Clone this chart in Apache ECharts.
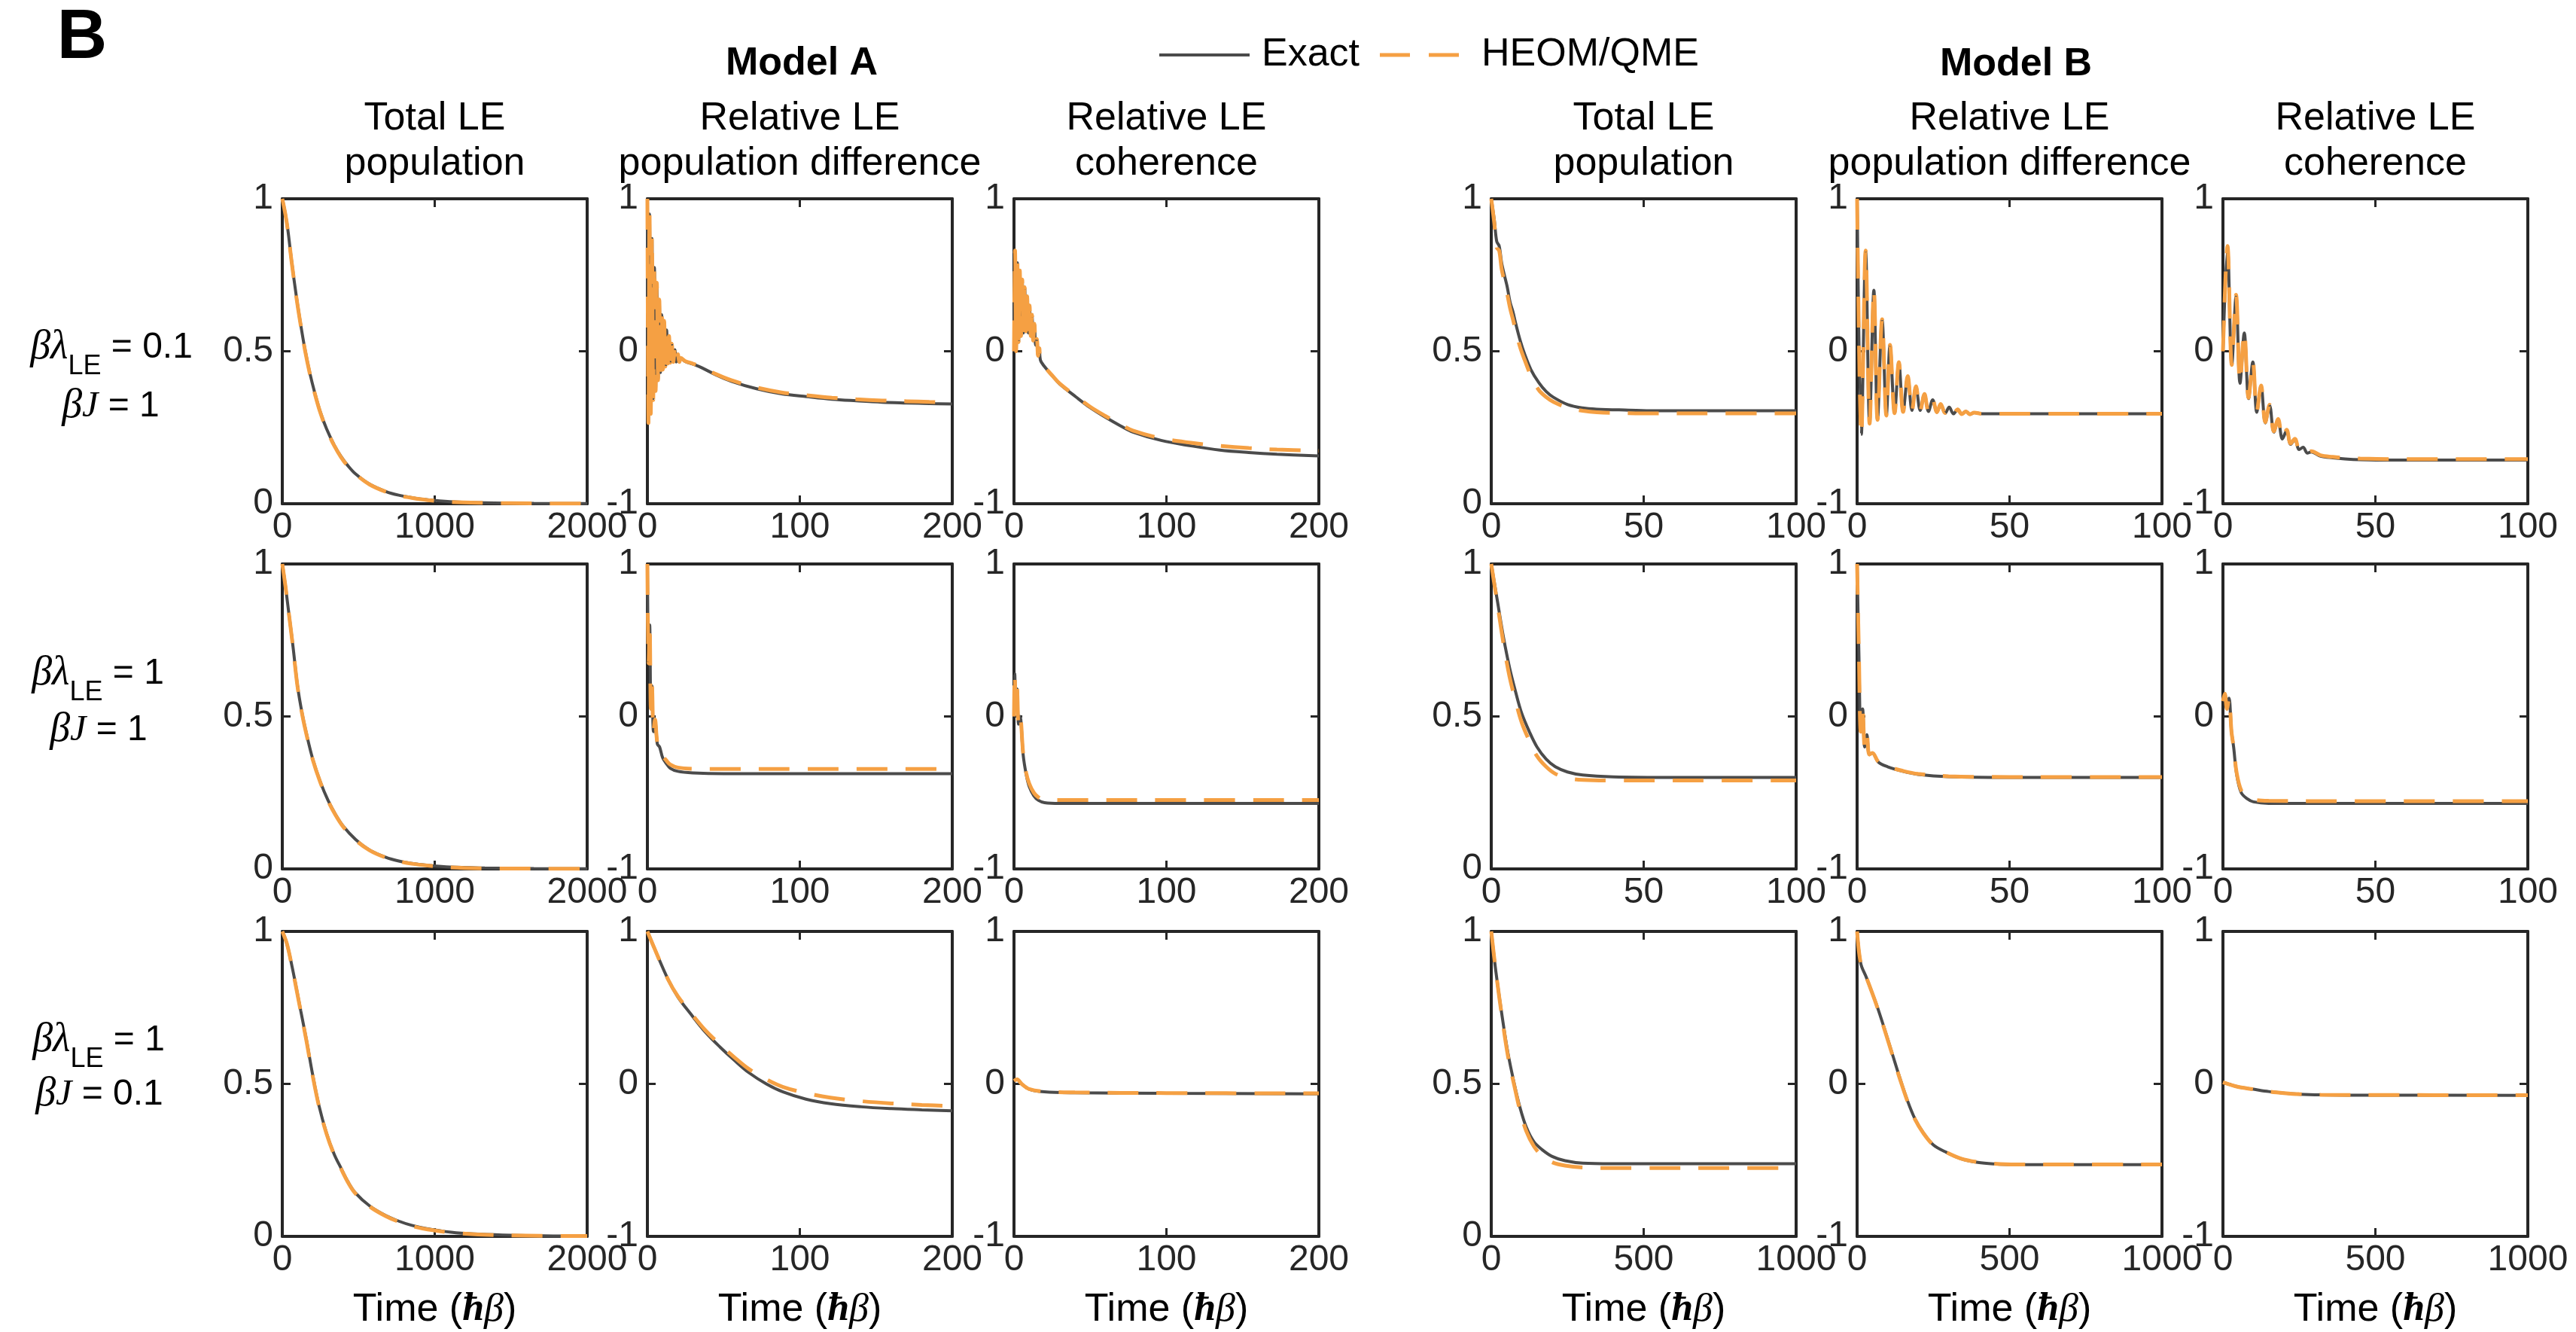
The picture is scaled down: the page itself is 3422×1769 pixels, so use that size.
<!DOCTYPE html>
<html>
<head>
<meta charset="utf-8">
<script src="https://cdn.jsdelivr.net/npm/echarts@6/dist/echarts.min.js"></script>
<style>
  html, body { margin: 0; padding: 0; background: #ffffff; }
  #chart { width: 3422px; height: 1769px; }
</style>
</head>
<body>
<div id="chart"></div>
<script>
// ---------------------------------------------------------------
// Data: time axes (units of hbar*beta) and the two dynamics per panel
// Row 1: beta*lambda_LE = 0.1, beta*J = 1
// Row 2: beta*lambda_LE = 1,   beta*J = 1
// Row 3: beta*lambda_LE = 1,   beta*J = 0.1
// Columns 1-3: Model A, columns 4-6: Model B
// ---------------------------------------------------------------

// Model A, total LE population
const timeR1C1  = [0, 20, 36, 60, 93, 120, 149, 180, 215, 250, 291, 340, 385, 430, 480, 573, 680, 764, 850, 953, 1100, 1328, 1650, 2000];
const exactR1C1 = [1, 0.95, 0.9, 0.8, 0.677, 0.59, 0.505, 0.43, 0.36, 0.3, 0.245, 0.193, 0.155, 0.125, 0.098, 0.064, 0.04, 0.028, 0.02, 0.013, 0.007, 0.003, 0.001, 0.0005];
const heomR1C1  = [1, 0.95, 0.898, 0.798, 0.675, 0.588, 0.503, 0.428, 0.358, 0.298, 0.243, 0.191, 0.153, 0.123, 0.097, 0.063, 0.039, 0.027, 0.019, 0.012, 0.006, 0.003, 0.001, 0.0005];

const timeR2C1  = [0, 20, 40, 70, 100, 130, 160, 200, 250, 300, 350, 400, 480, 573, 680, 764, 850, 953, 1100, 1328, 1650, 2000];
const exactR2C1 = [1, 0.93, 0.85, 0.73, 0.6, 0.51, 0.44, 0.36, 0.285, 0.225, 0.178, 0.14, 0.097, 0.062, 0.038, 0.026, 0.018, 0.012, 0.006, 0.003, 0.001, 0.0005];
const heomR2C1  = [1, 0.93, 0.85, 0.728, 0.598, 0.508, 0.438, 0.358, 0.283, 0.223, 0.176, 0.138, 0.095, 0.061, 0.037, 0.025, 0.017, 0.011, 0.005, 0.002, 0.001, 0.0005];

const timeR3C1  = [0, 30, 64, 90, 121, 160, 197, 240, 291, 340, 386, 430, 479, 573, 680, 764, 850, 953, 1140, 1500, 2000];
const exactR3C1 = [1, 0.96, 0.885, 0.82, 0.74, 0.64, 0.536, 0.43, 0.337, 0.27, 0.223, 0.18, 0.143, 0.1, 0.068, 0.05, 0.036, 0.025, 0.012, 0.004, 0.001];
const heomR3C1  = [1, 0.96, 0.884, 0.818, 0.738, 0.637, 0.533, 0.428, 0.335, 0.268, 0.221, 0.178, 0.141, 0.098, 0.066, 0.048, 0.034, 0.023, 0.011, 0.003, 0.001];

// Model A, relative LE population difference
const timeR1C2  = [0, 0.7, 1.4, 2.2, 3.0, 3.8, 4.6, 5.4, 6.2, 7.0, 7.8, 8.6, 9.4, 10.2, 11, 11.8, 12.6, 13.4, 14.2, 15, 16, 17, 18, 19, 20, 21, 22, 24.7, 30, 35.4, 45, 55, 71.6, 88, 104.5, 121, 137, 154, 170, 185, 200];
const exactR1C2 = [1, -0.46, 0.9, -0.4, 0.74, -0.31, 0.55, -0.25, 0.44, -0.18, 0.33, -0.14, 0.24, -0.11, 0.19, -0.1, 0.14, -0.08, 0.09, -0.075, 0.05, -0.07, 0.01, -0.07, -0.02, -0.07, -0.045, -0.066, -0.085, -0.107, -0.155, -0.197, -0.246, -0.279, -0.298, -0.315, -0.325, -0.334, -0.339, -0.343, -0.346];
const heomR1C2  = [1, -0.47, 0.92, -0.41, 0.75, -0.32, 0.56, -0.26, 0.45, -0.19, 0.34, -0.15, 0.25, -0.12, 0.2, -0.1, 0.15, -0.08, 0.1, -0.075, 0.05, -0.07, 0.01, -0.07, -0.02, -0.07, -0.045, -0.064, -0.082, -0.103, -0.15, -0.19, -0.238, -0.27, -0.289, -0.305, -0.315, -0.323, -0.328, -0.332, -0.335];

const timeR2C2  = [0, 0.8, 1.5, 2.3, 3, 4, 5, 6.5, 8, 10, 12.5, 15, 20, 30, 50, 100, 150, 200];
const exactR2C2 = [1, 0.35, 0.6, 0.05, 0.2, -0.1, -0.02, -0.18, -0.2, -0.27, -0.31, -0.34, -0.36, -0.37, -0.375, -0.375, -0.375, -0.375];
const heomR2C2  = [1, 0.35, 0.6, 0.05, 0.2, -0.1, -0.02, -0.17, -0.19, -0.255, -0.29, -0.315, -0.335, -0.343, -0.345, -0.345, -0.345, -0.345];

const timeR3C2  = [0, 5, 13.6, 20, 28.8, 38, 47.6, 57, 66.5, 78, 89, 104, 120, 140, 160, 180, 200];
const exactR3C2 = [1, 0.88, 0.684, 0.57, 0.454, 0.34, 0.242, 0.155, 0.074, 0.0, -0.053, -0.1, -0.13, -0.15, -0.162, -0.17, -0.177];
const heomR3C2  = [1, 0.88, 0.684, 0.575, 0.462, 0.352, 0.258, 0.175, 0.098, 0.03, -0.02, -0.06, -0.09, -0.113, -0.128, -0.138, -0.145];

// Model A, relative LE coherence
const timeR1C3  = [0, 0.7, 1.4, 2.2, 3.0, 3.8, 4.6, 5.4, 6.2, 7.0, 7.8, 8.6, 9.4, 10.2, 11, 11.8, 12.6, 13.4, 14.2, 15, 15.8, 16.6, 17.4, 20, 25.6, 30, 40.7, 50, 59.5, 70, 78, 97, 116, 135, 154, 172.5, 200];
const exactR1C3 = [0, 0.65, 0.0, 0.58, 0.06, 0.52, 0.1, 0.46, 0.12, 0.42, 0.13, 0.36, 0.12, 0.3, 0.1, 0.24, 0.07, 0.18, 0.04, 0.08, -0.03, 0.02, -0.06, -0.1, -0.166, -0.215, -0.3, -0.37, -0.43, -0.49, -0.53, -0.586, -0.62, -0.648, -0.664, -0.675, -0.686];
const heomR1C3  = [0, 0.66, 0.0, 0.59, 0.06, 0.53, 0.1, 0.47, 0.12, 0.42, 0.13, 0.36, 0.12, 0.3, 0.1, 0.24, 0.07, 0.18, 0.04, 0.08, -0.03, 0.02, -0.06, -0.1, -0.165, -0.212, -0.296, -0.364, -0.422, -0.48, -0.52, -0.572, -0.6, -0.62, -0.635, -0.645, -0.653];

const timeR2C3  = [0, 0.5, 1.2, 2, 3, 4, 6, 8, 10, 13, 16, 20, 30, 100, 200];
const exactR2C3 = [0, 0.28, 0.05, 0.18, -0.05, 0, -0.25, -0.38, -0.46, -0.52, -0.55, -0.565, -0.57, -0.57, -0.57];
const heomR2C3  = [0, 0.28, 0.05, 0.18, -0.05, 0, -0.24, -0.37, -0.44, -0.5, -0.53, -0.545, -0.548, -0.548, -0.548];

const timeR3C3  = [0, 2, 5, 10, 20, 40, 100, 200];
const exactR3C3 = [0.02, 0.03, 0.0, -0.035, -0.052, -0.058, -0.062, -0.065];
const heomR3C3  = [0.02, 0.03, 0.0, -0.034, -0.05, -0.056, -0.06, -0.062];

// Model B, total LE population
const timeR1C4  = [0, 1, 1.8, 2.6, 3.4, 4.3, 5.2, 6.2, 7.1, 8.1, 9.5, 10.9, 13, 15.6, 18, 20.4, 25.1, 30, 34.6, 45, 53.5, 70, 100];
const exactR1C4 = [1, 0.93, 0.86, 0.845, 0.79, 0.75, 0.713, 0.66, 0.63, 0.588, 0.535, 0.492, 0.44, 0.397, 0.368, 0.349, 0.325, 0.314, 0.31, 0.307, 0.305, 0.305, 0.305];
const heomR1C4  = [1, 0.92, 0.84, 0.83, 0.77, 0.73, 0.69, 0.64, 0.605, 0.565, 0.512, 0.473, 0.42, 0.373, 0.35, 0.334, 0.315, 0.305, 0.3, 0.297, 0.296, 0.296, 0.296];

const timeR2C4  = [0, 2, 4, 6, 8, 10, 12.5, 15, 18, 21, 25, 30, 40, 60, 100];
const exactR2C4 = [1, 0.88, 0.76, 0.66, 0.58, 0.51, 0.45, 0.4, 0.36, 0.335, 0.318, 0.308, 0.302, 0.3, 0.3];
const heomR2C4  = [1, 0.87, 0.74, 0.63, 0.55, 0.48, 0.42, 0.37, 0.335, 0.312, 0.298, 0.292, 0.29, 0.29, 0.29];

const timeR3C4  = [0, 15, 38, 55, 76.5, 95, 115, 140, 166, 200, 242, 300, 395, 500, 700, 1000];
const exactR3C4 = [1, 0.87, 0.706, 0.6, 0.496, 0.42, 0.358, 0.31, 0.285, 0.262, 0.248, 0.24, 0.238, 0.238, 0.238, 0.238];
const heomR3C4  = [1, 0.87, 0.7, 0.59, 0.49, 0.41, 0.345, 0.295, 0.265, 0.243, 0.232, 0.226, 0.224, 0.224, 0.224, 0.224];

// Model B, relative LE population difference
const timeR1C5  = [0, 1.4, 2.8, 4.1, 5.5, 6.7, 8.2, 9.6, 10.8, 12.3, 13.7, 15.1, 16.6, 18.0, 19.3, 20.7, 22.1, 23.4, 24.8, 26.2, 27.4, 28.9, 30.2, 31.6, 33, 34.3, 35.7, 37, 38.4, 41, 45, 50, 60, 80, 100];
const exactR1C5 = [1, -0.545, 0.653, -0.47, 0.4, -0.446, 0.207, -0.42, 0.04, -0.405, -0.074, -0.397, -0.165, -0.388, -0.231, -0.388, -0.281, -0.395, -0.319, -0.4, -0.347, -0.405, -0.367, -0.41, -0.382, -0.412, -0.395, -0.413, -0.403, -0.41, -0.41, -0.41, -0.41, -0.41, -0.41];
const heomR1C5  = [1, -0.55, 0.66, -0.475, 0.405, -0.45, 0.21, -0.422, 0.042, -0.406, -0.072, -0.398, -0.163, -0.389, -0.23, -0.389, -0.28, -0.395, -0.318, -0.4, -0.346, -0.405, -0.366, -0.41, -0.382, -0.412, -0.395, -0.413, -0.403, -0.41, -0.41, -0.41, -0.41, -0.41, -0.41];

const timeR2C5  = [0, 0.6, 1.2, 1.8, 2.5, 3.2, 4, 5, 7, 10, 15, 20, 30, 50, 100];
const exactR2C5 = [1, 0.4, -0.1, 0.05, -0.2, -0.12, -0.25, -0.24, -0.3, -0.33, -0.36, -0.38, -0.395, -0.4, -0.4];
const heomR2C5  = [1, 0.4, -0.1, 0.05, -0.2, -0.12, -0.25, -0.24, -0.298, -0.328, -0.357, -0.377, -0.392, -0.397, -0.397];

const timeR3C5  = [0, 12, 30, 64, 90, 115, 140, 166, 190, 217, 250, 294, 340, 396, 450, 520, 700, 1000];
const exactR3C5 = [1, 0.79, 0.7, 0.518, 0.36, 0.2, 0.04, -0.114, -0.23, -0.32, -0.4, -0.45, -0.49, -0.515, -0.525, -0.53, -0.53, -0.53];
const heomR3C5  = [1, 0.79, 0.7, 0.515, 0.355, 0.195, 0.035, -0.118, -0.233, -0.322, -0.4, -0.449, -0.489, -0.513, -0.523, -0.528, -0.528, -0.528];

// Model B, relative LE coherence
const timeR1C6  = [0, 1.5, 2.9, 4.3, 5.6, 7.0, 8.4, 9.8, 11.1, 12.5, 13.9, 15.3, 16.7, 18.1, 19.5, 20.9, 22.2, 23.6, 25, 26.3, 27.7, 29, 32, 36, 40, 45, 55, 100];
const exactR1C6 = [0, 0.68, -0.09, 0.36, -0.21, 0.12, -0.31, -0.07, -0.4, -0.23, -0.47, -0.355, -0.53, -0.45, -0.575, -0.52, -0.61, -0.578, -0.645, -0.63, -0.668, -0.66, -0.688, -0.699, -0.706, -0.711, -0.714, -0.714];
const heomR1C6  = [0, 0.69, -0.09, 0.37, -0.2, 0.125, -0.305, -0.065, -0.395, -0.225, -0.465, -0.35, -0.525, -0.445, -0.57, -0.515, -0.605, -0.574, -0.64, -0.626, -0.662, -0.655, -0.682, -0.693, -0.7, -0.704, -0.707, -0.707];

const timeR2C6  = [0, 0.6, 1.3, 2, 2.8, 3.5, 4.5, 6, 8, 10, 15, 30, 100];
const exactR2C6 = [0.1, 0.15, 0.05, 0.12, -0.1, -0.2, -0.38, -0.5, -0.54, -0.56, -0.57, -0.57, -0.57];
const heomR2C6  = [0.1, 0.15, 0.05, 0.12, -0.1, -0.2, -0.37, -0.485, -0.525, -0.545, -0.553, -0.555, -0.555];

const timeR3C6  = [0, 50, 100, 150, 200, 250, 320, 500, 1000];
const exactR3C6 = [0.01, -0.02, -0.035, -0.05, -0.06, -0.068, -0.072, -0.074, -0.075];
const heomR3C6  = [0.01, -0.02, -0.035, -0.05, -0.06, -0.067, -0.071, -0.073, -0.074];

// y ranges: populations run 0..1, relative quantities -1..1
const AXIS_POP  = { yMin: 0,  yMax: 1, yInt: 0.5 };
const AXIS_REL  = { yMin: -1, yMax: 1, yInt: 1 };

// Column headings and row conditions
const columnTitles = [
  'Total LE\npopulation',
  'Relative LE\npopulation difference',
  'Relative LE\ncoherence',
  'Total LE\npopulation',
  'Relative LE\npopulation difference',
  'Relative LE\ncoherence'
];
const modelNames = ['Model A', 'Model B'];
const rowLambda = ['0.1', '1', '1'];
const rowJ = ['1', '1', '0.1'];
const seriesNames = ['Exact', 'HEOM/QME'];

// Panel table: row, column, x range and the data arrays drawn there
const panels = [
  { r: 0, c: 0, xMax: 2000, xInt: 1000, y: AXIS_POP, t: timeR1C1, ex: exactR1C1, he: heomR1C1 },
  { r: 0, c: 1, xMax: 200,  xInt: 100,  y: AXIS_REL, t: timeR1C2, ex: exactR1C2, he: heomR1C2 },
  { r: 0, c: 2, xMax: 200,  xInt: 100,  y: AXIS_REL, t: timeR1C3, ex: exactR1C3, he: heomR1C3 },
  { r: 0, c: 3, xMax: 100,  xInt: 50,   y: AXIS_POP, t: timeR1C4, ex: exactR1C4, he: heomR1C4 },
  { r: 0, c: 4, xMax: 100,  xInt: 50,   y: AXIS_REL, t: timeR1C5, ex: exactR1C5, he: heomR1C5 },
  { r: 0, c: 5, xMax: 100,  xInt: 50,   y: AXIS_REL, t: timeR1C6, ex: exactR1C6, he: heomR1C6 },
  { r: 1, c: 0, xMax: 2000, xInt: 1000, y: AXIS_POP, t: timeR2C1, ex: exactR2C1, he: heomR2C1 },
  { r: 1, c: 1, xMax: 200,  xInt: 100,  y: AXIS_REL, t: timeR2C2, ex: exactR2C2, he: heomR2C2 },
  { r: 1, c: 2, xMax: 200,  xInt: 100,  y: AXIS_REL, t: timeR2C3, ex: exactR2C3, he: heomR2C3 },
  { r: 1, c: 3, xMax: 100,  xInt: 50,   y: AXIS_POP, t: timeR2C4, ex: exactR2C4, he: heomR2C4 },
  { r: 1, c: 4, xMax: 100,  xInt: 50,   y: AXIS_REL, t: timeR2C5, ex: exactR2C5, he: heomR2C5 },
  { r: 1, c: 5, xMax: 100,  xInt: 50,   y: AXIS_REL, t: timeR2C6, ex: exactR2C6, he: heomR2C6 },
  { r: 2, c: 0, xMax: 2000, xInt: 1000, y: AXIS_POP, t: timeR3C1, ex: exactR3C1, he: heomR3C1 },
  { r: 2, c: 1, xMax: 200,  xInt: 100,  y: AXIS_REL, t: timeR3C2, ex: exactR3C2, he: heomR3C2 },
  { r: 2, c: 2, xMax: 200,  xInt: 100,  y: AXIS_REL, t: timeR3C3, ex: exactR3C3, he: heomR3C3 },
  { r: 2, c: 3, xMax: 1000, xInt: 500,  y: AXIS_POP, t: timeR3C4, ex: exactR3C4, he: heomR3C4 },
  { r: 2, c: 4, xMax: 1000, xInt: 500,  y: AXIS_REL, t: timeR3C5, ex: exactR3C5, he: heomR3C5 },
  { r: 2, c: 5, xMax: 1000, xInt: 500,  y: AXIS_REL, t: timeR3C6, ex: exactR3C6, he: heomR3C6 }
];

// ---------------------------------------------------------------
// Layout and styling
// ---------------------------------------------------------------
const COL_LEFT = [375, 860, 1347, 1981, 2467, 2953];
const ROW_TOP = [264, 749, 1237];
const BOX = 405;

const AXIS_COLOR = '#262626';
const EXACT_COLOR = '#4b4b4b';
const HEOM_COLOR = '#f5a043';
const HEOM_DASH = [41, 24];
const SANS = '"Liberation Sans", Arial, Helvetica, sans-serif';
const SERIF = '"Liberation Serif", "DejaVu Serif", serif';
const TICK_FONT = 48;
const TEXT_FONT = 52;

const pairs = (t, v) => t.map((x, i) => [x, v[i]]);
const plainNumber = (v) => String(v);

const grids = [], xAxes = [], yAxes = [], series = [];

panels.forEach((p, k) => {
  grids.push({ left: COL_LEFT[p.c], top: ROW_TOP[p.r], width: BOX, height: BOX, containLabel: false });

  const lineCommon = { show: true, onZero: false, lineStyle: { color: AXIS_COLOR, width: 4 } };
  const tickCommon = { show: true, inside: true, length: 11, lineStyle: { color: AXIS_COLOR, width: 3 } };

  xAxes.push({
    type: 'value', gridIndex: k, position: 'bottom', min: 0, max: p.xMax, interval: p.xInt,
    axisLine: lineCommon, axisTick: tickCommon, splitLine: { show: false },
    axisLabel: { show: true, margin: 8, fontSize: TICK_FONT, fontFamily: SANS, color: AXIS_COLOR,
                 formatter: plainNumber, showMinLabel: true, showMaxLabel: true, hideOverlap: false }
  });
  xAxes.push({
    type: 'value', gridIndex: k, position: 'top', min: 0, max: p.xMax, interval: p.xInt,
    axisLine: lineCommon, axisTick: tickCommon, splitLine: { show: false }, axisLabel: { show: false }
  });
  yAxes.push({
    type: 'value', gridIndex: k, position: 'left', min: p.y.yMin, max: p.y.yMax, interval: p.y.yInt,
    axisLine: lineCommon, axisTick: tickCommon, splitLine: { show: false },
    axisLabel: { show: true, margin: 12, fontSize: TICK_FONT, fontFamily: SANS, color: AXIS_COLOR,
                 formatter: plainNumber, showMinLabel: true, showMaxLabel: true, hideOverlap: false }
  });
  yAxes.push({
    type: 'value', gridIndex: k, position: 'right', min: p.y.yMin, max: p.y.yMax, interval: p.y.yInt,
    axisLine: lineCommon, axisTick: tickCommon, splitLine: { show: false }, axisLabel: { show: false }
  });

  series.push({
    type: 'line', name: seriesNames[0], xAxisIndex: 2 * k, yAxisIndex: 2 * k,
    data: pairs(p.t, p.ex), symbol: 'none', showSymbol: false, smooth: 0.35, z: 2,
    lineStyle: { color: EXACT_COLOR, width: 4 }, itemStyle: { color: EXACT_COLOR }
  });
  series.push({
    type: 'line', name: seriesNames[1], xAxisIndex: 2 * k, yAxisIndex: 2 * k,
    data: pairs(p.t, p.he), symbol: 'none', showSymbol: false, smooth: 0.35, z: 3,
    lineStyle: { color: HEOM_COLOR, width: 5, type: HEOM_DASH }, itemStyle: { color: HEOM_COLOR }
  });
});

// Text: panel letter, model headings, legend, column titles, row conditions, x-axis names
const graphics = [];
graphics.push({ type: 'text', x: 109, y: 52, style: { text: 'B', fontSize: 92, fontWeight: 'bold', fontFamily: SANS, fill: '#000', align: 'center', verticalAlign: 'middle' } });
graphics.push({ type: 'text', x: 1065, y: 85, style: { text: modelNames[0], fontSize: TEXT_FONT, fontWeight: 'bold', fontFamily: SANS, fill: '#000', align: 'center', verticalAlign: 'middle' } });
graphics.push({ type: 'text', x: 2678, y: 86, style: { text: modelNames[1], fontSize: TEXT_FONT, fontWeight: 'bold', fontFamily: SANS, fill: '#000', align: 'center', verticalAlign: 'middle' } });

// legend keys
const LEGEND_Y = 73;
graphics.push({ type: 'line', shape: { x1: 1540, y1: LEGEND_Y, x2: 1660, y2: LEGEND_Y }, style: { stroke: EXACT_COLOR, lineWidth: 4 } });
graphics.push({ type: 'text', x: 1676, y: LEGEND_Y, style: { text: seriesNames[0], fontSize: TEXT_FONT, fontFamily: SANS, fill: '#000', align: 'left', verticalAlign: 'middle' } });
graphics.push({ type: 'line', shape: { x1: 1833, y1: LEGEND_Y, x2: 1953, y2: LEGEND_Y }, style: { stroke: HEOM_COLOR, lineWidth: 5, lineDash: [40, 25] } });
graphics.push({ type: 'text', x: 1968, y: LEGEND_Y, style: { text: seriesNames[1], fontSize: TEXT_FONT, fontFamily: SANS, fill: '#000', align: 'left', verticalAlign: 'middle' } });

columnTitles.forEach((txt, c) => {
  graphics.push({ type: 'text', x: COL_LEFT[c] + BOX / 2, y: 188,
    style: { text: txt, fontSize: TEXT_FONT, lineHeight: 60, fontFamily: SANS, fill: '#000', align: 'center', verticalAlign: 'middle' } });
  graphics.push({ type: 'text', x: COL_LEFT[c] + BOX / 2, y: 1740,
    style: { text: '{n|Time (}{h|ħ}{b|β}{n|)}', align: 'center', verticalAlign: 'middle',
      rich: {
        n: { fontSize: TEXT_FONT, fontFamily: SANS, color: '#000' },
        h: { fontSize: TEXT_FONT, fontFamily: SERIF, fontStyle: 'italic', fontWeight: 'bold', color: '#000' },
        b: { fontSize: TEXT_FONT, fontFamily: SERIF, fontStyle: 'italic', color: '#000' }
      } } });
});

const ROW_LABEL_POS = [
  { x1: 148, y1: 462, x2: 147, y2: 540 },
  { x1: 130, y1: 895, x2: 131, y2: 970 },
  { x1: 131, y1: 1382, x2: 132, y2: 1454 }
];
const greekRich = {
  g: { fontSize: 54, fontFamily: SERIF, fontStyle: 'italic', color: '#000', lineHeight: 86 },
  s: { fontSize: 36, fontFamily: SANS, color: '#000', lineHeight: 34, verticalAlign: 'bottom' },
  n: { fontSize: TICK_FONT, fontFamily: SANS, color: '#000', lineHeight: 86 },
  j: { fontSize: TICK_FONT, fontFamily: SERIF, fontStyle: 'italic', color: '#000' }
};
ROW_LABEL_POS.forEach((pos, r) => {
  graphics.push({ type: 'text', x: pos.x1, y: pos.y1,
    style: { text: '{g|βλ}{s|LE}{n| = ' + rowLambda[r] + '}', rich: greekRich, align: 'center', verticalAlign: 'middle' } });
  graphics.push({ type: 'text', x: pos.x2, y: pos.y2,
    style: { text: '{g|β}{j|J}{n| = ' + rowJ[r] + '}', rich: greekRich, align: 'center', verticalAlign: 'middle' } });
});

const chart = echarts.init(document.getElementById('chart'), null, { renderer: 'canvas' });
chart.setOption({
  animation: false,
  backgroundColor: '#ffffff',
  grid: grids,
  xAxis: xAxes,
  yAxis: yAxes,
  series: series,
  graphic: graphics
});
</script>
</body>
</html>
